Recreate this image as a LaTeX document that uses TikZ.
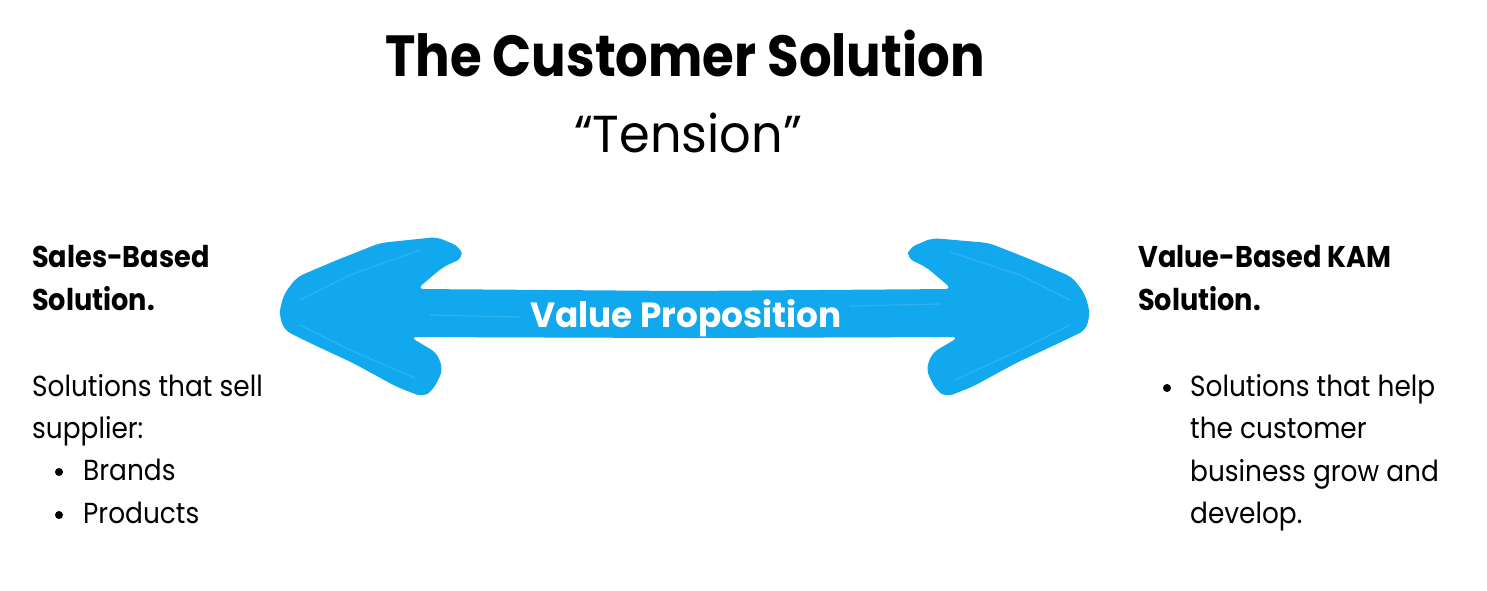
\documentclass[tikz,border=0pt]{standalone}
\usepackage{fontspec}
\setmainfont{Poppins}
\newfontfamily\titlefont[FakeStretch=0.885]{Poppins}
\newfontfamily\tensionfont[FakeStretch=0.95]{Poppins}
\newfontfamily\vpfont[FakeStretch=0.98]{Poppins}
\newfontfamily\headfont[FakeStretch=0.905]{Poppins}
\newfontfamily\bodyfont[FakeStretch=0.91]{Poppins}
\definecolor{brushblue}{RGB}{18,168,238}
\definecolor{streak}{RGB}{60,185,242}
\begin{document}
\begin{tikzpicture}[x=1pt,y=-1pt,
  head/.style={anchor=base west,inner sep=0pt,font=\headfont\bfseries\fontsize{30}{30}\selectfont},
  body/.style={anchor=base west,inner sep=0pt,font=\bodyfont\fontsize{29}{29}\selectfont},
  dot/.style={circle,fill=black,inner sep=0pt,minimum size=8pt},
  brushline/.style={draw=streak,line width=1.2pt,line cap=round,opacity=0.7}]
\useasboundingbox[fill=white] (0,0) rectangle (1487,590);
% title
\node[anchor=base,inner sep=0pt,font=\titlefont\bfseries\fontsize{58}{58}\selectfont] (title) at (685,76) {The Customer Solution};
\node[anchor=base,inner sep=0pt,font=\tensionfont\fontsize{52}{52}\selectfont] (tension) at (688,152) {“Tension”};
% arrow
\fill[brushblue,rounded corners=7pt]
  (279,313) -- (284,294) -- (297,277) -- (337,260) -- (380,243) -- (437,237) -- (460,247) -- (463,258) -- (443,267) -- (417,289)
  -- (684,291) -- (952,289) -- (926,267) -- (907,258) -- (909,248) -- (932,238) -- (989,243) -- (1032,260) -- (1072,277) -- (1085,294) -- (1090,313)
  -- (1086,330) -- (1059,343) -- (1016,363) -- (972,387) -- (946,397) -- (936,390) -- (926,370) -- (932,353) -- (959,337)
  -- (684,338) -- (410,337) -- (437,353) -- (443,370) -- (433,390) -- (423,397) -- (397,387) -- (353,363) -- (310,343) -- (284,330) -- cycle;
% brush streaks
\draw[brushline] (300,300) -- (350,275) -- (420,250);
\draw[brushline] (300,325) -- (350,350) -- (415,378);
\draw[brushline] (1070,300) -- (1020,275) -- (950,252);
\draw[brushline] (1070,325) -- (1020,350) -- (955,380);
\draw[brushline] (430,315) -- (520,317);
\draw[brushline] (850,306) -- (940,304);
\node[anchor=base,inner sep=0pt,text=white,font=\vpfont\bfseries\fontsize{35}{35}\selectfont] (vp) at (686,327) {Value Proposition};
% left
\node[head] (lh1) at (32,267) {Sales-Based};
\node[head] (lh2) at (32,310) {Solution.};
\node[body] (lb1) at (32,396) {Solutions that sell};
\node[body] (lb2) at (32,438) {supplier:};
\node[dot] (ld1) at (59,472) {};
\node[body] (lb3) at (83,480) {Brands};
\node[dot] (ld2) at (59,515) {};
\node[body] (lb4) at (83,523) {Products};
% right
\node[head] (rh1) at (1138,267) {Value-Based KAM};
\node[head] (rh2) at (1138,310) {Solution.};
\node[dot] (rd1) at (1167,388) {};
\node[body] (rb1) at (1190,396) {Solutions that help};
\node[body] (rb2) at (1190,438) {the customer};
\node[body] (rb3) at (1190,481) {business grow and};
\node[body] (rb4) at (1190,523) {develop.};
\end{tikzpicture}
\end{document}
